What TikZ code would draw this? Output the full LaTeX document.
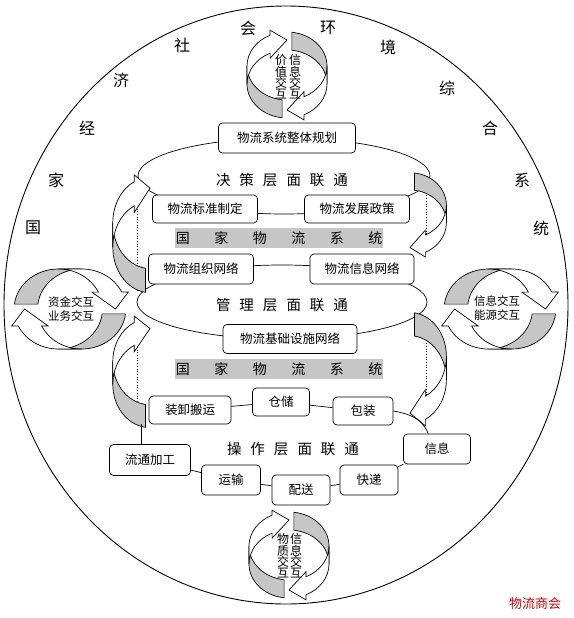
\documentclass[tikz,border=0pt]{standalone}
\usepackage{fontspec}
\setmainfont{Noto Sans CJK SC}
\usepackage{tikz}
\usetikzlibrary{calc}

\newcommand{\laysp}{\hspace{9pt}}
\newcommand{\barsp}{\hspace{24.5pt}}

\tikzset{
  box/.style={draw, rounded corners=4pt, fill=white, inner sep=0pt, font=\fontsize{12.5}{14}\selectfont},
  greybar/.style={fill=gray!45, minimum width=208pt, minimum height=20pt, inner sep=0pt, font=\fontsize{14}{16}\selectfont},
  layertext/.style={font=\fontsize{14.5}{16}\selectfont},
  ringtext/.style={font=\fontsize{16}{18}\selectfont},
  colword/.style={font=\fontsize{12}{11.3}\selectfont, inner sep=0pt, align=center},
  rowword/.style={font=\fontsize{11.5}{14}\selectfont, inner sep=0pt, align=center},
  backside/.style={draw, fill=gray!45},
  frontside/.style={draw, fill=white},
  ringarrow/.pic={
    % inner side of the ribbon
    \path[backside] (-40,-9) arc[start angle=180, end angle=97, x radius=40, y radius=34]
      -- ++(0,18) arc[start angle=97, end angle=180, x radius=40, y radius=34] -- cycle;
    % front side with the head
    \path[frontside] (-40,-9) arc[start angle=180, end angle=245, x radius=40, y radius=34]
      -- ++(0,-5) -- (0,-35) -- (-16.9,-16.8) -- (-16.9,-21.8)
      arc[start angle=245, end angle=180, x radius=40, y radius=34] -- cycle;
  }
}

\begin{document}
\begin{tikzpicture}[x=1pt, y=-1pt, line width=0.7pt]
    \useasboundingbox (0,0) rectangle (573,618);

    % outer ring
    \draw[line width=0.9pt] (286,305) ellipse [x radius=282, y radius=299];
    \foreach \ch/\x/\y [count=\i] in {国/33/228, 家/56/180, 经/87/128, 济/121/80, 社/182/45, 会/248/28,
        环/328/28, 境/388/47, 综/447/88, 合/490/128, 系/522/180, 统/541/228}
      \node[ringtext] (ring\i) at (\x,\y) {\ch};

    % layers
    \draw (284,176) ellipse [x radius=146, y radius=38];
    \draw (282,302) ellipse [x radius=145, y radius=37];
    \draw[dotted] (137,195) -- (137,292) (137,328) -- (137,420);
    \draw[dotted] (426,190) -- (426,252) (426,335) -- (426,400);

    % arrows between the layers
    \pic[xscale=0.93, yscale=1.34] at (150,235) {ringarrow};
    \pic[xscale=0.93, yscale=1.27] at (150,373) {ringarrow};
    \pic[xscale=0.91, yscale=0.96, rotate=180] at (410,214) {ringarrow};
    \pic[xscale=0.91, yscale=1.29, rotate=180] at (410,368) {ringarrow};

    % boxes
    \node[box, minimum width=137pt, minimum height=30pt] (guihua) at (287,138) {物流系统整体规划};
    \node[box, minimum width=105pt, minimum height=28pt] (biaozhun) at (205,209) {物流标准制定};
    \node[box, minimum width=105pt, minimum height=28pt] (zhengce) at (357,209) {物流发展政策};
    \node[box, minimum width=105pt, minimum height=30pt] (zuzhi) at (201,269) {物流组织网络};
    \node[box, minimum width=104pt, minimum height=30pt] (xinxiwl) at (362,269) {物流信息网络};
    \node[box, minimum width=134pt, minimum height=29pt] (jichu) at (290,339) {物流基础设施网络};
    \node[box, minimum width=82pt, minimum height=28pt] (zhuangxie) at (190,410) {装卸搬运};
    \node[box, minimum width=57pt, minimum height=28pt] (cangchu) at (281,402) {仓储};
    \node[box, minimum width=60pt, minimum height=28pt] (baozhuang) at (363,411) {包装};
    \node[box, minimum width=67pt, minimum height=30pt] (xinxi) at (437,449) {信息};
    \node[box, minimum width=81pt, minimum height=31pt] (jiagong) at (150,460) {流通加工};
    \node[box, minimum width=59pt, minimum height=30pt] (yunshu) at (231,480) {运输};
    \node[box, minimum width=58pt, minimum height=30pt] (peisong) at (301,490) {配送};
    \node[box, minimum width=58pt, minimum height=30pt] (kuaidi) at (369,480) {快递};

    % operation chain
    \draw (zhuangxie) -- (cangchu) -- (baozhuang);
    \draw (baozhuang.east) to[out=-10, in=110] (xinxi.120);
    \draw (xinxi) -- (kuaidi) -- (peisong) -- (yunshu) -- (jiagong);
    \coordinate (jg) at ($(jiagong.north)+(-9,0)$);
    \draw (jg) -- (jg |- zhuangxie.south);

    % grey bars
    \node[greybar] (bar1) at (279,238) {国\barsp 家\barsp 物\barsp 流\barsp 系\barsp 统};
    \node[greybar] (bar2) at (279,369) {国\barsp 家\barsp 物\barsp 流\barsp 系\barsp 统};

    % layer names
    \node[layertext] (juece) at (282,180) {决\laysp 策\laysp 层\laysp 面\laysp 联\laysp 通};
    \node[layertext] (guanli) at (282,305) {管\laysp 理\laysp 层\laysp 面\laysp 联\laysp 通};
    \node[layertext] (caozuo) at (293,449) {操\laysp 作\laysp 层\laysp 面\laysp 联\laysp 通};

    % exchange cycles
    \pic at (287,75) {ringarrow};
    \pic[rotate=180] at (287,75) {ringarrow};
    \node[colword] (jiazhi) at (281,77) {价\\值\\交\\互};
    \node[colword] (xinxitop) at (295,77) {信\\息\\交\\互};

    \pic at (289,555) {ringarrow};
    \pic[rotate=180] at (289,555) {ringarrow};
    \node[colword] (wuzhi) at (283,556) {物\\质\\交\\互};
    \node[colword] (xinxibot) at (296,556) {信\\息\\交\\互};

    \pic[xscale=1.3, rotate=-90] at (70,309) {ringarrow};
    \pic[xscale=1.3, rotate=90] at (70,309) {ringarrow};
    \node[rowword] (zijin) at (71,309) {资金交互\\业务交互};

    \pic[xscale=1.3, rotate=-90] at (500,309) {ringarrow};
    \pic[xscale=1.3, rotate=90] at (500,309) {ringarrow};
    \node[rowword] (nengyuan) at (497,308) {信息交互\\能源交互};

    \node[text=red!85!black, font=\fontsize{13}{14}\selectfont] (mark) at (535,604) {物流商会};
\end{tikzpicture}
\end{document}
